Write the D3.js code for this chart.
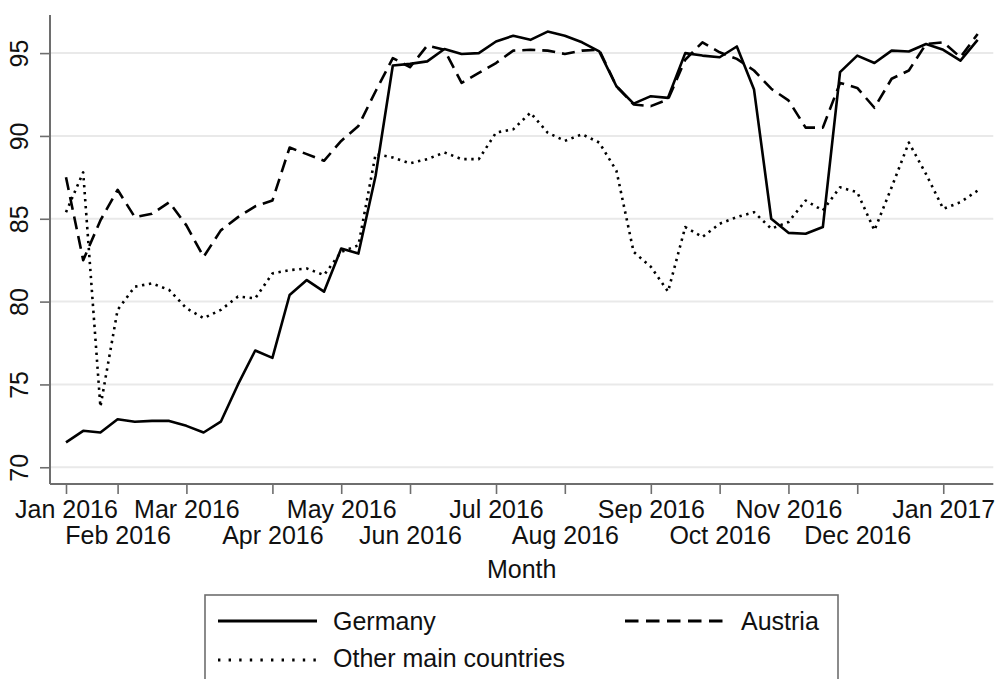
<!DOCTYPE html>
<html>
<head>
<meta charset="utf-8">
<script src="https://cdn.jsdelivr.net/npm/d3@7"></script>
<style>
  html, body { margin: 0; padding: 0; background: #fff; }
  svg { display: block; font-family: "Liberation Sans", Arial, Helvetica, sans-serif; }
</style>
</head>
<body>
<svg id="chart" width="999" height="679"></svg>
<script>
// Week index (0 = first week of Jan 2016)
const weeks = d3.range(54);

const germany = [71.5, 72.2, 72.1, 72.9, 72.75, 72.8, 72.8, 72.5, 72.1, 72.75,
  75.0, 77.05, 76.6, 80.4, 81.3, 80.6, 83.2, 82.9, 87.6, 94.25,
  94.35, 94.5, 95.25, 94.95, 95.0, 95.7, 96.05, 95.8, 96.3, 96.05,
  95.65, 95.1, 93.0, 91.95, 92.4, 92.3, 95.0, 94.85, 94.75, 95.4,
  92.8, 85.0, 84.15, 84.1, 84.5, 93.85, 94.85, 94.4, 95.15, 95.1,
  95.55, 95.2, 94.55, 95.8];

const austria = [87.5, 82.5, 84.9, 86.75, 85.1, 85.3, 86.0, 84.6, 82.7, 84.3,
  85.1, 85.75, 86.1, 89.3, 88.9, 88.5, 89.7, 90.6, 92.7, 94.7,
  94.15, 95.45, 95.2, 93.2, 93.8, 94.4, 95.15, 95.2, 95.15, 94.95,
  95.15, 95.2, 93.0, 91.9, 91.8, 92.2, 94.6, 95.65, 95.05, 94.65,
  93.95, 92.85, 92.15, 90.5, 90.5, 93.2, 92.9, 91.7, 93.45, 93.95,
  95.55, 95.65, 94.75, 96.15];

const other = [85.4, 87.8, 73.65, 79.5, 80.9, 81.1, 80.7, 79.6, 79.0, 79.5,
  80.3, 80.2, 81.7, 81.9, 82.0, 81.6, 83.0, 83.4, 88.9, 88.7,
  88.35, 88.6, 89.0, 88.6, 88.6, 90.2, 90.4, 91.4, 90.2, 89.7,
  90.1, 89.6, 87.9, 83.0, 82.1, 80.6, 84.5, 83.9, 84.7, 85.1,
  85.4, 84.4, 84.8, 86.1, 85.5, 86.9, 86.6, 84.3, 86.9, 89.6,
  87.7, 85.6, 86.0, 86.7];

const xTickWeeks = [0, 3, 7, 12, 16, 20, 25, 29, 34, 38, 42, 46, 51];
const xTickLabels = ["Jan 2016", "Feb 2016", "Mar 2016", "Apr 2016", "May 2016", "Jun 2016",
  "Jul 2016", "Aug 2016", "Sep 2016", "Oct 2016", "Nov 2016", "Dec 2016", "Jan 2017"];
const yTicks = [70, 75, 80, 85, 90, 95];

const seriesNames = ["Germany", "Austria", "Other main countries"];

(function () {
const svg = d3.select("#chart");
const pLeft = 50, pRight = 993.3, pTop = 15, pBottom = 484;
const axisColor = "#6e6e6e";
const fontSize = 25;

const x = d3.scaleLinear().domain([-0.93, 53.91]).range([pLeft, pRight]);
const y = d3.scaleLinear().domain([68.99, 97.3]).range([pBottom, pTop]);

// gridlines
svg.append("g").selectAll("line").data(yTicks).join("line")
  .attr("x1", pLeft + 1).attr("x2", pRight)
  .attr("y1", d => y(d)).attr("y2", d => y(d))
  .attr("stroke", "#e9e9e9").attr("stroke-width", 2);

// y axis
const yAxis = svg.append("g").attr("transform", `translate(${pLeft},0)`)
  .call(d3.axisLeft(y).tickValues(yTicks).tickSize(10).tickFormat(d3.format("d")));
yAxis.select(".domain").attr("stroke", axisColor).attr("stroke-width", 2)
  .attr("d", `M0,${pTop}V${pBottom}`);
yAxis.selectAll(".tick line").attr("stroke", axisColor).attr("stroke-width", 1.6);
yAxis.selectAll(".tick text")
  .attr("x", 0).attr("y", 0).attr("dy", 0)
  .attr("transform", "translate(-22,0) rotate(-90)")
  .attr("text-anchor", "middle")
  .attr("fill", "#111").style("font-size", fontSize + "px")
  .style("font-family", "'Liberation Sans', Arial, sans-serif");

// x axis
const xAxis = svg.append("g").attr("transform", `translate(0,${pBottom})`)
  .call(d3.axisBottom(x).tickValues(xTickWeeks).tickSize(10)
    .tickFormat((d, i) => xTickLabels[i]));
xAxis.select(".domain").attr("stroke", axisColor).attr("stroke-width", 2)
  .attr("d", `M${pLeft},0H${pRight}`);
xAxis.selectAll(".tick line").attr("stroke", axisColor).attr("stroke-width", 1.6);
xAxis.selectAll(".tick text")
  .attr("y", (d, i) => i % 2 === 0 ? 34 : 60).attr("dy", 0)
  .attr("fill", "#111").style("font-size", fontSize + "px")
  .style("font-family", "'Liberation Sans', Arial, sans-serif");

// x title
svg.append("text").attr("x", (pLeft + pRight) / 2).attr("y", 578)
  .attr("text-anchor", "middle").attr("fill", "#111")
  .style("font-size", fontSize + "px").text("Month");

// lines
const lineGen = d3.line().x((d, i) => x(weeks[i])).y(d => y(d));
const styles = [
  { data: germany, dash: null, width: 2.6 },
  { data: austria, dash: "13,7", width: 2.6 },
  { data: other, dash: "2.4,4.6", width: 2.6 }
];
styles.slice().reverse().forEach(s => {
  svg.append("path").datum(s.data)
    .attr("d", lineGen)
    .attr("fill", "none").attr("stroke", "#000")
    .attr("stroke-width", s.width)
    .attr("stroke-linejoin", "round")
    .attr("stroke-dasharray", s.dash);
});

// legend
const lg = svg.append("g");
lg.append("rect").attr("x", 205).attr("y", 595).attr("width", 633).attr("height", 120)
  .attr("fill", "#fff").attr("stroke", axisColor).attr("stroke-width", 1.6);
const legendItems = [
  { name: seriesNames[0], x1: 218, x2: 317, ly: 621, ty: 629.5, dash: null },
  { name: seriesNames[1], x1: 625, x2: 725, ly: 621, ty: 629.5, dash: "13.5,7.5" },
  { name: seriesNames[2], x1: 218, x2: 317, ly: 660, ty: 667, dash: "2.4,8.2" }
];
legendItems.forEach(it => {
  lg.append("line").attr("x1", it.x1).attr("x2", it.x2).attr("y1", it.ly).attr("y2", it.ly)
    .attr("stroke", "#000").attr("stroke-width", 2.8).attr("stroke-dasharray", it.dash);
  lg.append("text").attr("x", it.x2 + 16).attr("y", it.ty)
    .attr("fill", "#111").style("font-size", fontSize + "px").text(it.name);
});
})();
</script>
</body>
</html>
